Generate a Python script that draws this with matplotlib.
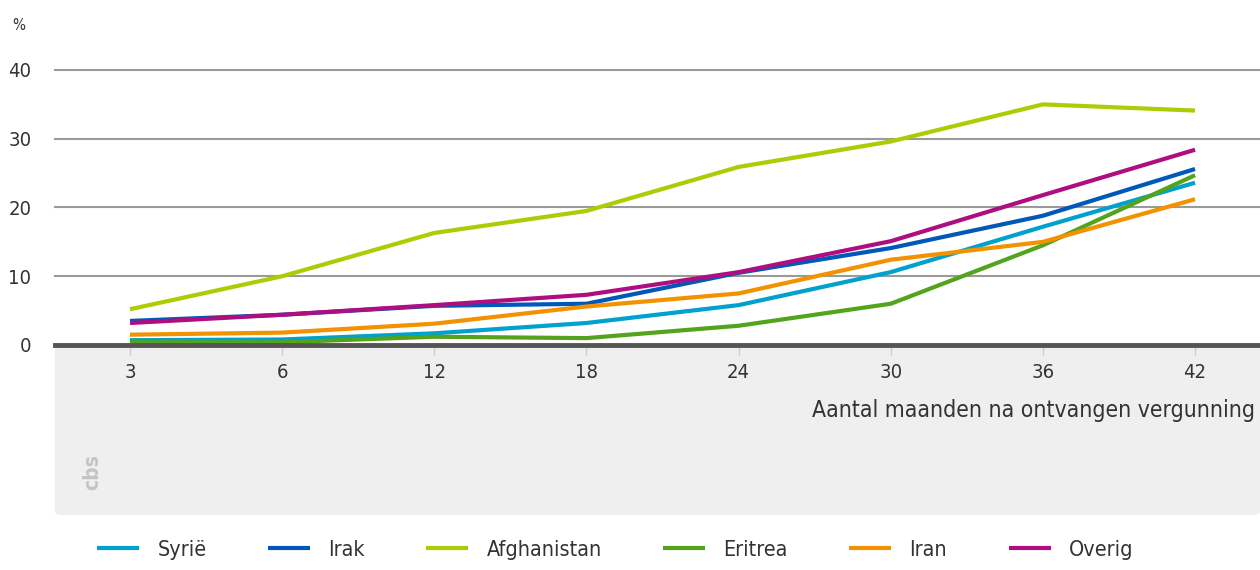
import numpy as np
import matplotlib.pyplot as plt
from matplotlib.patches import FancyBboxPatch

# data
maanden = ['3', '6', '12', '18', '24', '30', '36', '42']
syrie = [0.7, 0.8, 1.7, 3.2, 5.8, 10.6, 17.2, 23.6]
irak = [3.5, 4.4, 5.7, 6.0, 10.5, 14.1, 18.8, 25.6]
afghanistan = [5.2, 10.0, 16.3, 19.5, 25.9, 29.6, 35.0, 34.1]
eritrea = [0.4, 0.4, 1.2, 1.0, 2.8, 6.0, 14.5, 24.7]
iran = [1.5, 1.8, 3.1, 5.6, 7.5, 12.4, 15.0, 21.2]
overig = [3.2, 4.4, 5.8, 7.3, 10.6, 15.1, 21.8, 28.4]

series = [('Syrië', syrie, '#00a1cd'),
          ('Irak', irak, '#0058b8'),
          ('Afghanistan', afghanistan, '#afcb05'),
          ('Eritrea', eritrea, '#53a31d'),
          ('Iran', iran, '#f39200'),
          ('Overig', overig, '#af0e80')]

plt.rcParams['font.family'] = ['DejaVu Sans']
plt.rcParams['font.stretch'] = 'condensed'
txtcol = '#333333'

fig = plt.figure(figsize=(12.6, 5.7), dpi=100)

# grey band under the x axis
band = FancyBboxPatch((55/1260, 1-515/570), (1260-55)/1260, (515-345)/570,
                      boxstyle='round,pad=0,rounding_size=0.006',
                      transform=fig.transFigure, facecolor='#efefef',
                      edgecolor='none', zorder=-1)
fig.patches.append(band)

ax = fig.add_axes([55/1260, 1-345/570, (1260-55)/1260, (345-70)/570])
ax.set_zorder(2)
ax.patch.set_alpha(0)

x = np.arange(len(maanden))
for naam, vals, kleur in series:
    ax.plot(x, vals, color=kleur, lw=3, label=naam, solid_capstyle='butt', zorder=3)

ax.set_xlim(-0.493, 7.427)
ax.set_ylim(0, 40)
ax.set_yticks([0, 10, 20, 30, 40])
for yv in [10, 20, 30, 40]:
    ax.axhline(yv, color='#9a9a9a', lw=1.5, zorder=1, clip_on=False)
ax.axhline(0, color='#555555', lw=3.5, zorder=4, clip_on=False)

for s in ax.spines.values():
    s.set_visible(False)
ax.set_xticks(x)
ax.set_xticklabels(maanden)
ax.tick_params(axis='x', length=7, width=1, color='#cccccc', pad=6,
               labelsize=14.5, labelcolor=txtcol)
ax.tick_params(axis='y', length=0, pad=17, labelsize=14.5, labelcolor=txtcol)

fig.text(12/1260, 1-25/570, '%', fontsize=11, color=txtcol, va='center')
fig.text(1255/1260, 1-410/570, 'Aantal maanden na ontvangen vergunning',
         fontsize=16.5, color=txtcol, ha='right', va='center')
fig.text(92/1260, 1-472/570, 'cbs', fontsize=15, color='#c4c4c4',
         rotation=90, ha='center', va='center', fontweight='bold')

fig.legend(loc='center left', bbox_to_anchor=(78/1260, 1-550/570), ncol=6,
           frameon=False, fontsize=15.5, handlelength=1.95, columnspacing=2.85,
           handletextpad=0.85, labelcolor=txtcol)

fig.savefig('out.png', dpi=100)
